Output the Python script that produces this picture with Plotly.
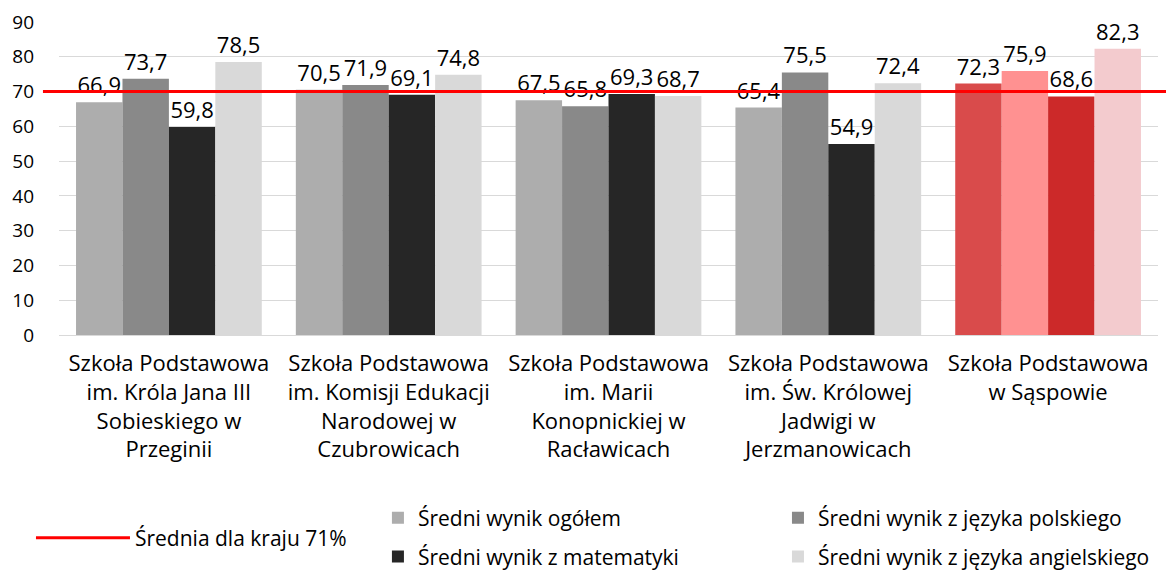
import plotly.graph_objects as go

categories = [
    "Szkoła Podstawowa<br>im. Króla Jana III<br>Sobieskiego w<br>Przeginii",
    "Szkoła Podstawowa<br>im. Komisji Edukacji<br>Narodowej w<br>Czubrowicach",
    "Szkoła Podstawowa<br>im. Marii<br>Konopnickiej w<br>Racławicach",
    "Szkoła Podstawowa<br>im. Św. Królowej<br>Jadwigi w<br>Jerzmanowicach",
    "Szkoła Podstawowa<br>w Sąspowie",
]
series_names = [
    "Średni wynik ogółem",
    "Średni wynik z języka polskiego",
    "Średni wynik z matematyki",
    "Średni wynik z języka angielskiego",
]
ogolem = [66.9, 70.5, 67.5, 65.4, 72.3]
polski = [73.7, 71.9, 65.8, 75.5, 75.9]
matematyka = [59.8, 69.1, 69.3, 54.9, 68.6]
angielski = [78.5, 74.8, 68.7, 72.4, 82.3]
national_avg = 70
national_label = "Średnia dla kraju 71%"
y_max = 90

gray_colors = ["#ADADAD", "#898989", "#262626", "#D9D9D9"]
red_colors = ["#D94B4B", "#FF9191", "#CC2929", "#F3CBCE"]
values = [ogolem, polski, matematyka, angielski]

FONT = "Open Sans"
fig = go.Figure()

# legend placement (paper coords)
legend_pos = [(0.2902, -0.585), (0.6542, -0.585), (0.2902, -0.709), (0.6542, -0.709)]

fig.add_trace(go.Scatter(
    x=[categories[0]], y=[None], mode="lines", name=national_label,
    line=dict(color="#FF0000", width=3), legend="legend",
))

for i, (name, vals) in enumerate(zip(series_names, values)):
    colors = [gray_colors[i]] * (len(vals) - 1) + [red_colors[i]]
    fig.add_trace(go.Bar(
        x=categories, y=vals, name=name,
        marker=dict(color=colors, line=dict(width=0)),
        text=[f"{v:.1f}".replace(".", ",") for v in vals],
        textposition="outside", cliponaxis=False, constraintext="none",
        textfont=dict(family=FONT, size=22, color="#000000"),
        legend=f"legend{i+2}",
    ))

fig.add_shape(type="line", xref="paper", yref="y domain",
              x0=-0.0146, x1=1.01, y0=national_avg / y_max, y1=national_avg / y_max,
              line=dict(color="#FF0000", width=3), layer="above")

legend_common = dict(bgcolor="rgba(0,0,0,0)", borderwidth=0,
                     font=dict(family=FONT, size=21, color="#000000"),
                     xanchor="left", yanchor="middle", orientation="v")
layout_legends = {
    "legend": dict(x=-0.0255, y=-0.649, itemwidth=94, **legend_common),
}
for i, (lx, ly) in enumerate(legend_pos):
    layout_legends[f"legend{i+2}"] = dict(x=lx, y=ly, **legend_common)

fig.update_layout(
    width=1166, height=571,
    margin=dict(l=59, r=8, t=22, b=236, autoexpand=False),
    plot_bgcolor="white", paper_bgcolor="white",
    barmode="group", bargap=0.155, bargroupgap=0,
    font=dict(family=FONT, size=20, color="#000000"),
    showlegend=True,
    xaxis=dict(type="category", showgrid=False, showline=True, linecolor="#D9D9D9",
               linewidth=1, tickfont=dict(family=FONT, size=22), ticks="",
               ticklabelstandoff=9, automargin=False),
    yaxis=dict(range=[0, y_max], dtick=10, showgrid=True, gridcolor="#D9D9D9",
               gridwidth=1, zeroline=False, showline=False, ticks="",
               tickfont=dict(family=FONT, size=19), ticklabelstandoff=24,
               automargin=False),
    **layout_legends,
)

fig.write_html("out.html", config={"displayModeBar": False},
               post_script="document.body.style.margin='0px';")
